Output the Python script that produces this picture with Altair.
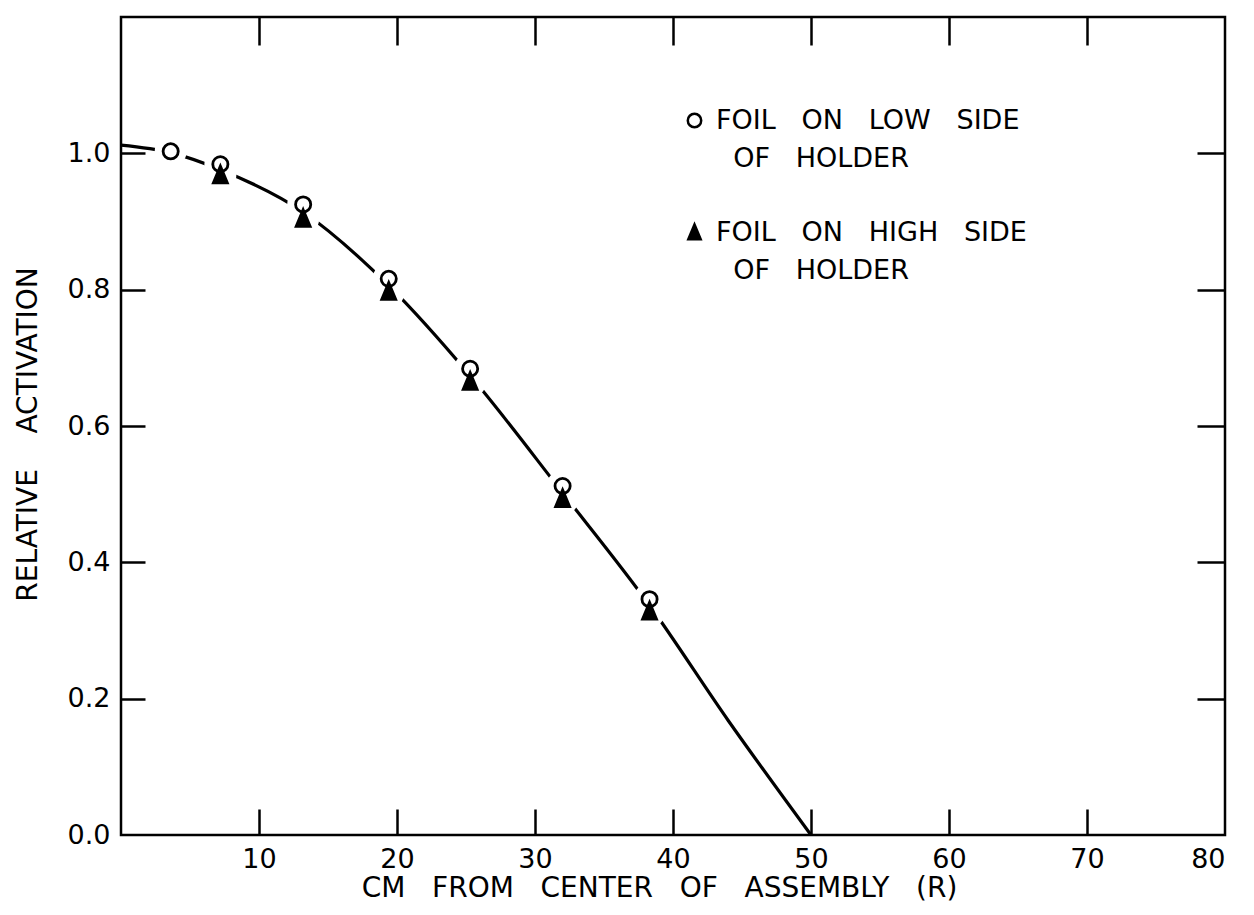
import json
import altair as alt
import pandas as pd

# ---- data ----
x_low = [3.6, 7.2, 13.2, 19.4, 25.3, 32.0, 38.3]
y_low = [1.003, 0.984, 0.925, 0.816, 0.684, 0.512, 0.346]
x_high = [7.2, 13.2, 19.4, 25.3, 32.0, 38.3]
y_high = [0.968, 0.904, 0.797, 0.665, 0.493, 0.328]
x_curve = [0.0, 3.6, 7.2, 13.2, 19.4, 25.3, 32.0, 38.3, 44.0, 50.0]
y_curve = [1.012, 1.001, 0.976, 0.914, 0.806, 0.674, 0.502, 0.337, 0.168, 0.0]

x_label_values = [10, 20, 30, 40, 50, 60, 70, 80]
x_tick_values = [10, 20, 30, 40, 50, 60, 70]
y_label_values = [0.0, 0.2, 0.4, 0.6, 0.8, 1.0]
y_tick_values = [0.2, 0.4, 0.6, 0.8, 1.0]

series_keys = ["low", "high"]
NB = "\u00a0"
ZW = "\u200b"
G = NB * 2 + " "
legend_lines = {
    "low": [f"FOIL{G}ON{G}LOW{G}SIDE", f"{ZW}{NB*2}OF{G}HOLDER"],
    "high": [f"FOIL{G}ON{G}HIGH{G}SIDE", f"{ZW}{NB*2}OF{G}HOLDER"],
}
x_title = f"CM{G}FROM{G}CENTER{G}OF{G}ASSEMBLY{G}(R)"
y_title = f"RELATIVE{NB*3} ACTIVATION"

FONT = "DejaVu Sans"
TRIANGLE = "M0,-1.2L0.92,1L-0.92,1Z"

curve_df = pd.DataFrame({"x": x_curve, "y": y_curve})
pts_df = pd.DataFrame({
    "x": x_low + x_high,
    "y": y_low + y_high,
    "series": ["low"] * len(x_low) + ["high"] * len(x_high),
})

xscale = alt.Scale(domain=[0, 80], nice=False, zero=False)
yscale = alt.Scale(domain=[0, 1.2], nice=False, zero=False)

label_expr = "datum.value === 'low' ? %s : %s" % (
    json.dumps(legend_lines["low"], ensure_ascii=False),
    json.dumps(legend_lines["high"], ensure_ascii=False),
)

legend = alt.Legend(
    title=None, orient="none", legendX=560, legendY=90,
    labelExpr=label_expr, labelFontSize=27, labelFont=FONT,
    labelColor="black", labelLimit=600, labelOffset=8,
    labelBaseline="middle", rowPadding=46, padding=0, symbolSize=180,
    symbolStrokeWidth=2.5,
)

line = alt.Chart(curve_df).mark_line(
    color="black", strokeWidth=3.2, interpolate="monotone"
).encode(
    x=alt.X("x:Q", scale=xscale, axis=alt.Axis(
        orient="bottom", values=x_label_values, format="d", ticks=False,
        labelPadding=11, title=x_title, titleX=538, titleY=53,
        titleAlign="center", titleBaseline="middle")),
    y=alt.Y("y:Q", scale=yscale, axis=alt.Axis(
        orient="left", values=y_label_values, format=".1f", ticks=False,
        labelPadding=11, title=y_title, titleX=-93, titleY=417,
        titleAngle=270, titleAlign="center", titleBaseline="middle")),
)

halo = alt.Chart(pts_df).mark_circle(
    color="white", fill="white", size=900, opacity=1, fillOpacity=1,
    stroke="white", strokeWidth=2
).encode(
    x=alt.X("x:Q", scale=xscale, axis=alt.Axis(
        orient="bottom", values=x_tick_values, labels=False, title=None,
        offset=-26, tickSize=26)),
    y=alt.Y("y:Q", scale=yscale, axis=alt.Axis(
        orient="left", values=y_tick_values, labels=False, title=None,
        offset=-24, tickSize=24)),
)

points = alt.Chart(pts_df).mark_point(
    strokeWidth=2.8, size=230, opacity=1
).encode(
    x=alt.X("x:Q", scale=xscale, axis=alt.Axis(
        orient="top", values=x_tick_values, labels=False, title=None,
        offset=-28, tickSize=28)),
    y=alt.Y("y:Q", scale=yscale, axis=alt.Axis(
        orient="right", values=y_tick_values, labels=False, title=None,
        offset=-28, tickSize=28)),
    shape=alt.Shape("series:N", scale=alt.Scale(
        domain=series_keys, range=["circle", TRIANGLE]), legend=legend),
    fill=alt.Fill("series:N", scale=alt.Scale(
        domain=series_keys, range=["white", "black"]), legend=legend),
    stroke=alt.Stroke("series:N", scale=alt.Scale(
        domain=series_keys, range=["black", "black"]), legend=legend),
    order=alt.Order("order:Q"),
).transform_calculate(order="datum.series === 'low' ? 0 : 1")

chart = alt.layer(line, halo, points).resolve_axis(
    x="independent", y="independent"
).properties(
    width=1104, height=818, background="white",
    autosize=alt.AutoSizeParams(type="none"),
    padding={"left": 113, "top": 9, "right": 21, "bottom": 70},
).configure(
    style={"guide-label": {"lineHeight": 38}}
).configure_view(
    stroke="black", strokeWidth=2.5
).configure_axis(
    grid=False, domain=False, labelFont=FONT, labelFontSize=27,
    labelColor="black", titleFont=FONT, titleFontSize=28,
    titleFontWeight="normal", titleColor="black", tickColor="black",
    tickWidth=2.5,
)

chart.save("out.html", embed_options={"renderer": "svg", "actions": False})
